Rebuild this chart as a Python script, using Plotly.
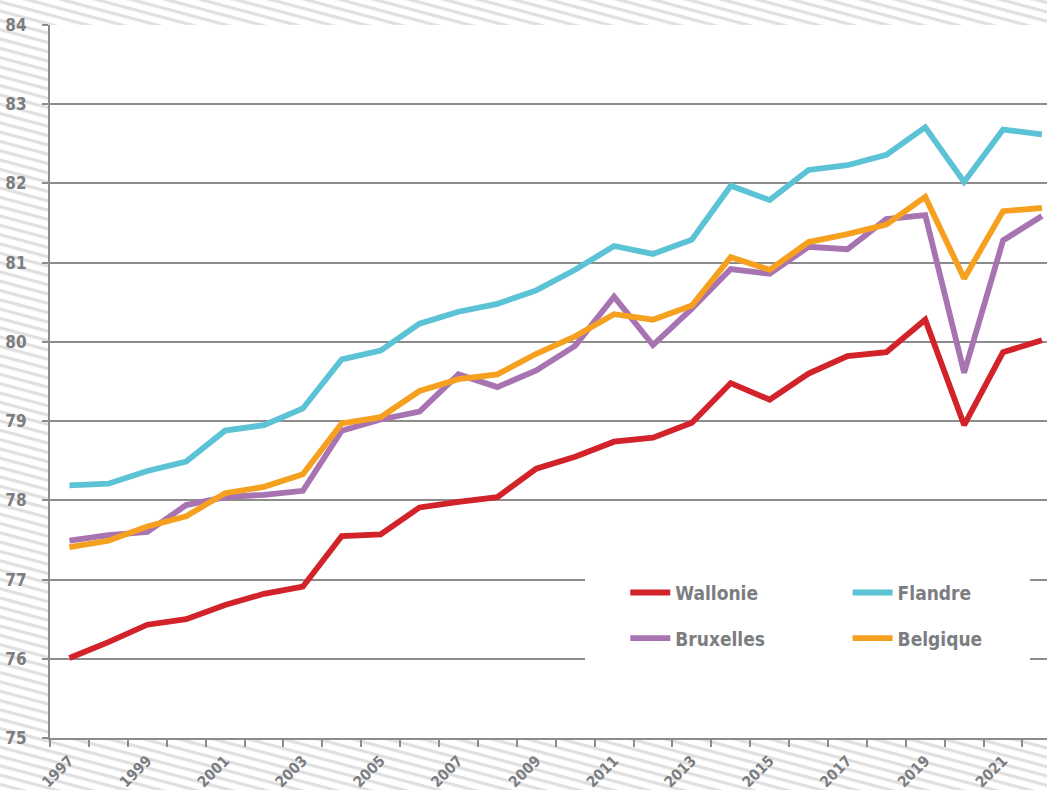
import base64
import plotly.graph_objects as go

years = list(range(1997, 2023))
wallonie = [76.01, 76.21, 76.43, 76.50, 76.68, 76.82, 76.91, 77.55, 77.57, 77.91, 77.98, 78.04, 78.40,
            78.55, 78.74, 78.79, 78.98, 79.48, 79.27, 79.60, 79.82, 79.87, 80.28, 78.95, 79.87, 80.02]
flandre = [78.19, 78.21, 78.37, 78.49, 78.88, 78.95, 79.16, 79.78, 79.89, 80.23, 80.38, 80.48, 80.65,
           80.91, 81.21, 81.11, 81.29, 81.97, 81.79, 82.17, 82.23, 82.36, 82.71, 82.02, 82.68, 82.62]
bruxelles = [77.49, 77.56, 77.60, 77.94, 78.04, 78.07, 78.12, 78.88, 79.02, 79.12, 79.59, 79.43, 79.64,
             79.95, 80.57, 79.96, 80.42, 80.92, 80.86, 81.20, 81.17, 81.55, 81.60, 79.61, 81.28, 81.59]
belgique = [77.41, 77.49, 77.67, 77.80, 78.09, 78.17, 78.33, 78.97, 79.05, 79.38, 79.53, 79.59, 79.85,
            80.07, 80.35, 80.28, 80.46, 81.07, 80.91, 81.26, 81.36, 81.48, 81.83, 80.80, 81.65, 81.69]
x_tick_years = list(range(1997, 2023, 2))
x_tick_labels = [str(y) for y in x_tick_years]
y_ticks = list(range(75, 85))

W, H = 1047, 790
ML, MR, MT, MB = 50, 0, 25, 52
PW, PH = W - ML - MR, H - MT - MB

FONT = "Liberation Sans Narrow, DejaVu Sans Condensed, Arial Narrow, sans-serif"
TXT = "#7b7d80"
GRID = "#8c8c8c"

# striped background
svg = (
    f"<svg xmlns='http://www.w3.org/2000/svg' width='{W}' height='{H}'>"
    "<defs><pattern id='p' width='12' height='9' patternUnits='userSpaceOnUse' "
    "patternTransform='rotate(15)'><rect width='12' height='3.2' fill='#e0e0e0'/></pattern></defs>"
    f"<rect width='{W}' height='{H}' fill='white'/><rect width='{W}' height='{H}' fill='url(#p)'/></svg>"
)
src = "data:image/svg+xml;base64," + base64.b64encode(svg.encode()).decode()

series = [
    ("Wallonie", wallonie, "#d2232a", "legend", "g1"),
    ("Flandre", flandre, "#5bc3d5", "legend2", "g2"),
    ("Bruxelles", bruxelles, "#a774b1", "legend", "g3"),
    ("Belgique", belgique, "#f6a020", "legend2", "g4"),
]

fig = go.Figure()
for name, vals, col, leg, grp in series:
    fig.add_trace(go.Scatter(
        x=years, y=vals, name=name, mode="lines",
        line=dict(color=col, width=5.8),
        legend=leg, legendgroup=grp,
    ))

legfont = dict(family=FONT, size=19, color=TXT, weight="bold")
bx0, bx1, by0, by1 = 585, 1030, 672, 562
fig.update_layout(
    width=W, height=H,
    margin=dict(l=ML, r=MR, t=MT, b=MB, pad=0),
    paper_bgcolor="white", plot_bgcolor="white",
    showlegend=True,
    legend=dict(x=0.577, y=0.2305, xanchor="left", yanchor="top", orientation="v",
                font=legfont, bgcolor="rgba(0,0,0,0)", tracegroupgap=18, itemwidth=40),
    legend2=dict(x=0.800, y=0.2305, xanchor="left", yanchor="top", orientation="v",
                 font=legfont, bgcolor="rgba(0,0,0,0)", tracegroupgap=18, itemwidth=40),
    images=[dict(source=src, xref="paper", yref="paper",
                 x=-ML / PW, y=1 + MT / PH, sizex=W / PW, sizey=H / PH,
                 xanchor="left", yanchor="top", sizing="stretch", layer="below")],
    shapes=[
        dict(type="rect", xref="paper", yref="paper", x0=0, x1=1, y0=0, y1=1,
             fillcolor="white", line=dict(width=0), layer="below"),
        dict(type="rect", xref="paper", yref="paper",
             x0=(bx0 - ML) / PW, x1=(bx1 - ML) / PW,
             y0=(H - MB - by0) / PH, y1=(H - MB - by1) / PH,
             fillcolor="white", line=dict(width=0), layer="above"),
    ],
)
fig.update_xaxes(
    range=[1996.5, 2022.13], showgrid=False, zeroline=False, automargin=False,
    showline=True, linecolor=GRID, linewidth=2,
    tickmode="array", tickvals=x_tick_years, ticktext=x_tick_labels,
    ticks="outside", ticklen=6, tickcolor="rgba(0,0,0,0)",
    tickangle=-45, tickfont=dict(family=FONT, size=15, color=TXT, weight="bold"),
    minor=dict(tickmode="array", tickvals=[y - 0.5 for y in years] + [2022.5],
               ticks="outside", ticklen=7, tickwidth=2, tickcolor=GRID, showgrid=False),
)
fig.update_yaxes(
    range=[75, 84], tickmode="array", tickvals=y_ticks, automargin=False,
    showgrid=True, gridcolor=GRID, gridwidth=2, zeroline=False,
    showline=True, linecolor=GRID, linewidth=2,
    ticks="outside", ticklen=6, tickwidth=2, tickcolor=GRID,
    ticklabelstandoff=12,
    tickfont=dict(family=FONT, size=17, color=TXT, weight="bold"),
)

fig.write_html("out.html", config={"displayModeBar": False},
               post_script="document.body.style.margin='0';document.body.style.overflow='hidden';")
